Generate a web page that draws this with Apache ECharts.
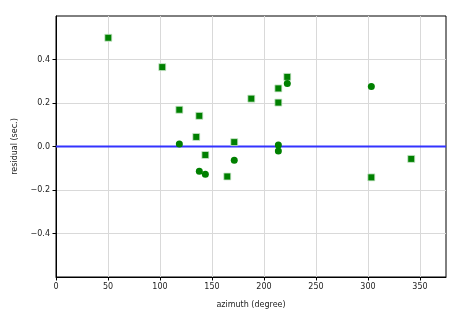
<!DOCTYPE html>
<html>
<head>
<meta charset="utf-8">
<script src="https://cdn.jsdelivr.net/npm/echarts@6/dist/echarts.min.js"></script>
<style>html,body{margin:0;padding:0;background:#fff;}#c{width:465px;height:315px;}</style>
</head>
<body>
<div id="c"></div>
<script>
// Square-marker series (azimuth, residual)
const squareAzimuth  = [50.3, 102.2, 118.6, 137.8, 134.9, 143.6, 164.7, 171.4, 187.8, 213.8, 213.8, 222.4, 303.2, 341.6];
const squareResidual = [0.500, 0.365, 0.169, 0.141, 0.044, -0.039, -0.138, 0.020, 0.220, 0.267, 0.202, 0.320, -0.142, -0.057];
// Circle-marker series
const circleAzimuth  = [118.6, 137.8, 143.6, 171.4, 213.8, 213.8, 222.4, 303.2];
const circleResidual = [0.011, -0.114, -0.128, -0.063, 0.007, -0.021, 0.290, 0.276];
// Zero reference line
const refLineX = [0, 375];
const refLineY = [0, 0];
// Tick labels
const xTicks = [0, 50, 100, 150, 200, 250, 300, 350];
const yTicks = [-0.4, -0.2, 0.0, 0.2, 0.4];

const zip = (a, b) => a.map((v, i) => [v, b[i]]);
const font = 'DejaVu Sans';

const chart = echarts.init(document.getElementById('c'), null, {renderer: 'canvas'});
chart.setOption({
  animation: false,
  backgroundColor: '#ffffff',
  grid: {left: 56, right: 19, top: 16, bottom: 38, show: true, borderColor: '#000', borderWidth: 1, containLabel: false},
  xAxis: {
    type: 'value', min: 0, max: 375, interval: 50,
    name: 'azimuth (degree)', nameLocation: 'middle', nameGap: 24,
    nameTextStyle: {fontFamily: font, fontSize: 8, color: '#222'},
    axisLine: {show: true, onZero: false, lineStyle: {color: '#000', width: 1}},
    axisTick: {show: true, length: 3.5, customValues: xTicks, lineStyle: {color: '#000'}},
    axisLabel: {customValues: xTicks, fontFamily: font, fontSize: 8, color: '#222', margin: 6},
    splitLine: {show: true, lineStyle: {color: '#d9d9d9', width: 1}}
  },
  yAxis: {
    type: 'value', min: -0.6, max: 0.6, interval: 0.2,
    name: 'residual (sec.)', nameLocation: 'middle', nameGap: 37, nameRotate: 90,
    nameTextStyle: {fontFamily: font, fontSize: 8, color: '#222'},
    axisLine: {show: true, onZero: false, lineStyle: {color: '#000', width: 1}},
    axisTick: {show: true, length: 3.5, customValues: yTicks, lineStyle: {color: '#000'}},
    axisLabel: {customValues: yTicks, fontFamily: font, fontSize: 8, color: '#222', margin: 6,
      formatter: v => (v < 0 ? '\u2212' + Math.abs(v).toFixed(1) : v.toFixed(1))},
    splitLine: {show: true, lineStyle: {color: '#d9d9d9', width: 1}}
  },
  series: [
    {
      type: 'line', data: zip(refLineX, refLineY), symbol: 'none', z: 1,
      lineStyle: {color: '#3333ff', width: 1.8}
    },
    {
      type: 'scatter', data: zip(squareAzimuth, squareResidual), symbol: 'rect', symbolSize: 7, z: 3,
      itemStyle: {color: '#008000', borderColor: '#cfe8cf', borderWidth: 0.8, opacity: 1}
    },
    {
      type: 'scatter', data: zip(circleAzimuth, circleResidual), symbol: 'circle', symbolSize: 7, z: 3,
      itemStyle: {color: '#008000', opacity: 1}
    }
  ]
});
</script>
</body>
</html>
